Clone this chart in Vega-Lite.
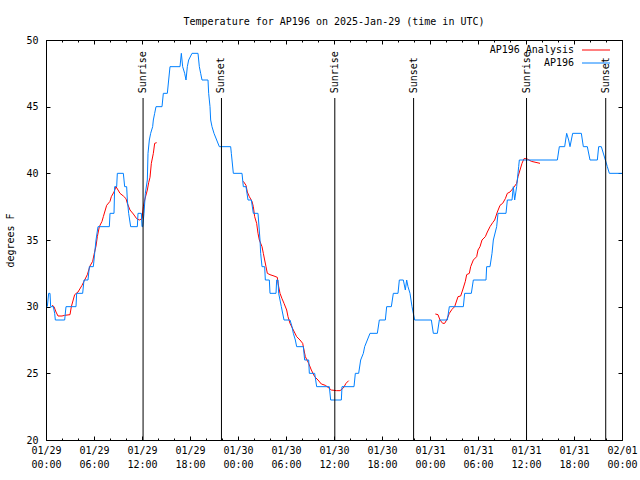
{
  "$schema": "https://vega.github.io/schema/vega-lite/v6.json",
  "width": 576,
  "height": 400,
  "autosize": {"type": "none"},
  "padding": {"left": 46, "top": 40, "right": 18, "bottom": 40},
  "background": "white",
  "config": {
    "view": {"stroke": "black", "strokeWidth": 1},
    "font": "DejaVu Sans Mono",
    "axis": {"domain": false, "grid": false, "tickColor": "black", "tickWidth": 1, "labelColor": "black", "labelFont": "DejaVu Sans Mono", "labelFontSize": 10, "titleFont": "DejaVu Sans Mono", "titleFontSize": 10, "titleFontWeight": "normal", "titleColor": "black"}
  },
  "title": {"text": "Temperature for AP196 on 2025-Jan-29 (time in UTC)", "font": "DejaVu Sans Mono", "fontSize": 10, "fontWeight": "normal", "color": "black", "anchor": "middle", "offset": 8},
  "datasets": {
    "ana": [
      {"t": "2025-01-29T00:45Z", "temp": 30.1, "seg": "a1"},
      {"t": "2025-01-29T01:00Z", "temp": 30.0, "seg": "a1"},
      {"t": "2025-01-29T01:15Z", "temp": 29.6, "seg": "a1"},
      {"t": "2025-01-29T01:30Z", "temp": 29.3, "seg": "a1"},
      {"t": "2025-01-29T02:00Z", "temp": 29.3, "seg": "a1"},
      {"t": "2025-01-29T02:20Z", "temp": 29.35, "seg": "a1"},
      {"t": "2025-01-29T03:00Z", "temp": 29.4, "seg": "a1"},
      {"t": "2025-01-29T03:10Z", "temp": 30.0, "seg": "a1"},
      {"t": "2025-01-29T03:35Z", "temp": 30.9, "seg": "a1"},
      {"t": "2025-01-29T04:00Z", "temp": 31.1, "seg": "a1"},
      {"t": "2025-01-29T04:30Z", "temp": 31.6, "seg": "a1"},
      {"t": "2025-01-29T04:45Z", "temp": 31.9, "seg": "a1"},
      {"t": "2025-01-29T05:10Z", "temp": 32.4, "seg": "a1"},
      {"t": "2025-01-29T05:30Z", "temp": 33.05, "seg": "a1"},
      {"t": "2025-01-29T05:50Z", "temp": 33.4, "seg": "a1"},
      {"t": "2025-01-29T06:00Z", "temp": 33.9, "seg": "a1"},
      {"t": "2025-01-29T06:15Z", "temp": 34.55, "seg": "a1"},
      {"t": "2025-01-29T06:25Z", "temp": 35.25, "seg": "a1"},
      {"t": "2025-01-29T06:40Z", "temp": 36.0, "seg": "a1"},
      {"t": "2025-01-29T07:00Z", "temp": 36.4, "seg": "a1"},
      {"t": "2025-01-29T07:10Z", "temp": 36.75, "seg": "a1"},
      {"t": "2025-01-29T07:35Z", "temp": 37.6, "seg": "a1"},
      {"t": "2025-01-29T08:00Z", "temp": 37.9, "seg": "a1"},
      {"t": "2025-01-29T08:10Z", "temp": 38.25, "seg": "a1"},
      {"t": "2025-01-29T08:30Z", "temp": 38.6, "seg": "a1"},
      {"t": "2025-01-29T08:45Z", "temp": 39.0, "seg": "a1"},
      {"t": "2025-01-29T09:15Z", "temp": 38.5, "seg": "a1"},
      {"t": "2025-01-29T09:40Z", "temp": 38.3, "seg": "a1"},
      {"t": "2025-01-29T10:00Z", "temp": 38.1, "seg": "a1"},
      {"t": "2025-01-29T10:10Z", "temp": 37.75, "seg": "a1"},
      {"t": "2025-01-29T10:30Z", "temp": 37.25, "seg": "a1"},
      {"t": "2025-01-29T10:55Z", "temp": 36.95, "seg": "a1"},
      {"t": "2025-01-29T11:20Z", "temp": 36.6, "seg": "a1"},
      {"t": "2025-01-29T11:40Z", "temp": 36.5, "seg": "a1"},
      {"t": "2025-01-29T12:00Z", "temp": 36.6, "seg": "a1"},
      {"t": "2025-01-29T12:10Z", "temp": 37.5, "seg": "a1"},
      {"t": "2025-01-29T12:20Z", "temp": 38.0, "seg": "a1"},
      {"t": "2025-01-29T12:40Z", "temp": 38.75, "seg": "a1"},
      {"t": "2025-01-29T12:50Z", "temp": 39.3, "seg": "a1"},
      {"t": "2025-01-29T13:00Z", "temp": 39.7, "seg": "a1"},
      {"t": "2025-01-29T13:10Z", "temp": 40.75, "seg": "a1"},
      {"t": "2025-01-29T13:25Z", "temp": 41.5, "seg": "a1"},
      {"t": "2025-01-29T13:35Z", "temp": 42.25, "seg": "a1"},
      {"t": "2025-01-29T13:50Z", "temp": 42.3, "seg": "a1"},
      {"t": "2025-01-30T00:40Z", "temp": 39.4, "seg": "a2"},
      {"t": "2025-01-30T01:00Z", "temp": 39.1, "seg": "a2"},
      {"t": "2025-01-30T01:10Z", "temp": 38.6, "seg": "a2"},
      {"t": "2025-01-30T01:25Z", "temp": 38.25, "seg": "a2"},
      {"t": "2025-01-30T01:45Z", "temp": 37.9, "seg": "a2"},
      {"t": "2025-01-30T01:55Z", "temp": 37.5, "seg": "a2"},
      {"t": "2025-01-30T02:05Z", "temp": 36.75, "seg": "a2"},
      {"t": "2025-01-30T02:20Z", "temp": 36.25, "seg": "a2"},
      {"t": "2025-01-30T02:30Z", "temp": 35.5, "seg": "a2"},
      {"t": "2025-01-30T02:40Z", "temp": 35.0, "seg": "a2"},
      {"t": "2025-01-30T03:00Z", "temp": 34.5, "seg": "a2"},
      {"t": "2025-01-30T03:10Z", "temp": 34.0, "seg": "a2"},
      {"t": "2025-01-30T03:20Z", "temp": 33.5, "seg": "a2"},
      {"t": "2025-01-30T03:30Z", "temp": 33.0, "seg": "a2"},
      {"t": "2025-01-30T03:40Z", "temp": 32.5, "seg": "a2"},
      {"t": "2025-01-30T04:00Z", "temp": 32.4, "seg": "a2"},
      {"t": "2025-01-30T04:30Z", "temp": 32.3, "seg": "a2"},
      {"t": "2025-01-30T04:55Z", "temp": 32.2, "seg": "a2"},
      {"t": "2025-01-30T05:00Z", "temp": 31.75, "seg": "a2"},
      {"t": "2025-01-30T05:15Z", "temp": 31.0, "seg": "a2"},
      {"t": "2025-01-30T05:30Z", "temp": 30.6, "seg": "a2"},
      {"t": "2025-01-30T05:45Z", "temp": 30.25, "seg": "a2"},
      {"t": "2025-01-30T06:05Z", "temp": 29.75, "seg": "a2"},
      {"t": "2025-01-30T06:15Z", "temp": 29.25, "seg": "a2"},
      {"t": "2025-01-30T06:30Z", "temp": 28.75, "seg": "a2"},
      {"t": "2025-01-30T06:55Z", "temp": 28.25, "seg": "a2"},
      {"t": "2025-01-30T07:20Z", "temp": 27.75, "seg": "a2"},
      {"t": "2025-01-30T07:45Z", "temp": 27.5, "seg": "a2"},
      {"t": "2025-01-30T08:05Z", "temp": 27.25, "seg": "a2"},
      {"t": "2025-01-30T08:25Z", "temp": 26.25, "seg": "a2"},
      {"t": "2025-01-30T08:50Z", "temp": 25.75, "seg": "a2"},
      {"t": "2025-01-30T09:10Z", "temp": 25.25, "seg": "a2"},
      {"t": "2025-01-30T09:35Z", "temp": 24.75, "seg": "a2"},
      {"t": "2025-01-30T10:00Z", "temp": 24.5, "seg": "a2"},
      {"t": "2025-01-30T10:25Z", "temp": 24.2, "seg": "a2"},
      {"t": "2025-01-30T10:55Z", "temp": 24.1, "seg": "a2"},
      {"t": "2025-01-30T11:15Z", "temp": 23.95, "seg": "a2"},
      {"t": "2025-01-30T11:40Z", "temp": 23.75, "seg": "a2"},
      {"t": "2025-01-30T12:20Z", "temp": 23.7, "seg": "a2"},
      {"t": "2025-01-30T12:45Z", "temp": 23.7, "seg": "a2"},
      {"t": "2025-01-30T13:10Z", "temp": 23.9, "seg": "a2"},
      {"t": "2025-01-30T13:30Z", "temp": 24.25, "seg": "a2"},
      {"t": "2025-01-30T13:50Z", "temp": 24.45, "seg": "a2"},
      {"t": "2025-01-31T00:40Z", "temp": 29.45, "seg": "a3"},
      {"t": "2025-01-31T01:00Z", "temp": 29.4, "seg": "a3"},
      {"t": "2025-01-31T01:15Z", "temp": 29.0, "seg": "a3"},
      {"t": "2025-01-31T01:35Z", "temp": 28.75, "seg": "a3"},
      {"t": "2025-01-31T01:50Z", "temp": 28.75, "seg": "a3"},
      {"t": "2025-01-31T02:05Z", "temp": 29.0, "seg": "a3"},
      {"t": "2025-01-31T02:25Z", "temp": 29.5, "seg": "a3"},
      {"t": "2025-01-31T02:45Z", "temp": 29.8, "seg": "a3"},
      {"t": "2025-01-31T03:05Z", "temp": 30.0, "seg": "a3"},
      {"t": "2025-01-31T03:30Z", "temp": 30.75, "seg": "a3"},
      {"t": "2025-01-31T03:50Z", "temp": 30.8, "seg": "a3"},
      {"t": "2025-01-31T04:05Z", "temp": 31.25, "seg": "a3"},
      {"t": "2025-01-31T04:25Z", "temp": 31.9, "seg": "a3"},
      {"t": "2025-01-31T04:35Z", "temp": 32.4, "seg": "a3"},
      {"t": "2025-01-31T04:55Z", "temp": 32.5, "seg": "a3"},
      {"t": "2025-01-31T05:05Z", "temp": 33.0, "seg": "a3"},
      {"t": "2025-01-31T05:25Z", "temp": 33.5, "seg": "a3"},
      {"t": "2025-01-31T05:50Z", "temp": 33.75, "seg": "a3"},
      {"t": "2025-01-31T06:00Z", "temp": 34.25, "seg": "a3"},
      {"t": "2025-01-31T06:15Z", "temp": 34.5, "seg": "a3"},
      {"t": "2025-01-31T06:30Z", "temp": 35.0, "seg": "a3"},
      {"t": "2025-01-31T06:55Z", "temp": 35.25, "seg": "a3"},
      {"t": "2025-01-31T07:10Z", "temp": 35.6, "seg": "a3"},
      {"t": "2025-01-31T07:30Z", "temp": 36.0, "seg": "a3"},
      {"t": "2025-01-31T07:50Z", "temp": 36.3, "seg": "a3"},
      {"t": "2025-01-31T08:05Z", "temp": 36.5, "seg": "a3"},
      {"t": "2025-01-31T08:25Z", "temp": 37.1, "seg": "a3"},
      {"t": "2025-01-31T08:45Z", "temp": 37.6, "seg": "a3"},
      {"t": "2025-01-31T09:05Z", "temp": 37.75, "seg": "a3"},
      {"t": "2025-01-31T09:25Z", "temp": 38.1, "seg": "a3"},
      {"t": "2025-01-31T09:40Z", "temp": 38.5, "seg": "a3"},
      {"t": "2025-01-31T10:00Z", "temp": 38.6, "seg": "a3"},
      {"t": "2025-01-31T10:25Z", "temp": 38.9, "seg": "a3"},
      {"t": "2025-01-31T10:50Z", "temp": 39.25, "seg": "a3"},
      {"t": "2025-01-31T11:00Z", "temp": 39.75, "seg": "a3"},
      {"t": "2025-01-31T11:15Z", "temp": 40.25, "seg": "a3"},
      {"t": "2025-01-31T11:30Z", "temp": 40.75, "seg": "a3"},
      {"t": "2025-01-31T11:45Z", "temp": 41.1, "seg": "a3"},
      {"t": "2025-01-31T12:05Z", "temp": 41.1, "seg": "a3"},
      {"t": "2025-01-31T12:40Z", "temp": 40.9, "seg": "a3"},
      {"t": "2025-01-31T13:45Z", "temp": 40.75, "seg": "a3"}
    ],
    "obs": [
      {"t": "2025-01-29T00:10Z", "temp": 30},
      {"t": "2025-01-29T00:20Z", "temp": 31},
      {"t": "2025-01-29T00:30Z", "temp": 31},
      {"t": "2025-01-29T00:35Z", "temp": 30},
      {"t": "2025-01-29T00:55Z", "temp": 30},
      {"t": "2025-01-29T01:05Z", "temp": 29.5},
      {"t": "2025-01-29T01:10Z", "temp": 29},
      {"t": "2025-01-29T02:20Z", "temp": 29},
      {"t": "2025-01-29T02:30Z", "temp": 30},
      {"t": "2025-01-29T03:45Z", "temp": 30},
      {"t": "2025-01-29T03:50Z", "temp": 31},
      {"t": "2025-01-29T04:35Z", "temp": 31},
      {"t": "2025-01-29T04:45Z", "temp": 32},
      {"t": "2025-01-29T05:15Z", "temp": 32},
      {"t": "2025-01-29T05:25Z", "temp": 33},
      {"t": "2025-01-29T05:55Z", "temp": 33},
      {"t": "2025-01-29T06:05Z", "temp": 34},
      {"t": "2025-01-29T06:15Z", "temp": 35},
      {"t": "2025-01-29T06:30Z", "temp": 36},
      {"t": "2025-01-29T07:55Z", "temp": 36},
      {"t": "2025-01-29T08:00Z", "temp": 37},
      {"t": "2025-01-29T08:30Z", "temp": 37},
      {"t": "2025-01-29T08:35Z", "temp": 39},
      {"t": "2025-01-29T08:50Z", "temp": 39},
      {"t": "2025-01-29T08:55Z", "temp": 40},
      {"t": "2025-01-29T09:40Z", "temp": 40},
      {"t": "2025-01-29T09:45Z", "temp": 39.5},
      {"t": "2025-01-29T09:50Z", "temp": 39},
      {"t": "2025-01-29T10:05Z", "temp": 39},
      {"t": "2025-01-29T10:10Z", "temp": 38},
      {"t": "2025-01-29T10:20Z", "temp": 37},
      {"t": "2025-01-29T10:35Z", "temp": 36},
      {"t": "2025-01-29T11:25Z", "temp": 36},
      {"t": "2025-01-29T11:30Z", "temp": 37},
      {"t": "2025-01-29T11:55Z", "temp": 37},
      {"t": "2025-01-29T12:00Z", "temp": 36},
      {"t": "2025-01-29T12:05Z", "temp": 36},
      {"t": "2025-01-29T12:15Z", "temp": 37},
      {"t": "2025-01-29T12:25Z", "temp": 38.5},
      {"t": "2025-01-29T12:40Z", "temp": 39.5},
      {"t": "2025-01-29T12:45Z", "temp": 41.5},
      {"t": "2025-01-29T12:55Z", "temp": 42.5},
      {"t": "2025-01-29T13:05Z", "temp": 43},
      {"t": "2025-01-29T13:20Z", "temp": 43.5},
      {"t": "2025-01-29T13:25Z", "temp": 44},
      {"t": "2025-01-29T13:35Z", "temp": 44.5},
      {"t": "2025-01-29T13:45Z", "temp": 45},
      {"t": "2025-01-29T14:30Z", "temp": 45},
      {"t": "2025-01-29T14:40Z", "temp": 46},
      {"t": "2025-01-29T15:10Z", "temp": 46},
      {"t": "2025-01-29T15:20Z", "temp": 47},
      {"t": "2025-01-29T15:30Z", "temp": 48},
      {"t": "2025-01-29T16:45Z", "temp": 48},
      {"t": "2025-01-29T16:55Z", "temp": 49},
      {"t": "2025-01-29T17:05Z", "temp": 48},
      {"t": "2025-01-29T17:20Z", "temp": 47.5},
      {"t": "2025-01-29T17:30Z", "temp": 47},
      {"t": "2025-01-29T17:40Z", "temp": 48},
      {"t": "2025-01-29T17:50Z", "temp": 48.5},
      {"t": "2025-01-29T18:15Z", "temp": 49},
      {"t": "2025-01-29T19:00Z", "temp": 49},
      {"t": "2025-01-29T19:10Z", "temp": 48},
      {"t": "2025-01-29T19:20Z", "temp": 47.5},
      {"t": "2025-01-29T19:30Z", "temp": 47},
      {"t": "2025-01-29T20:15Z", "temp": 47},
      {"t": "2025-01-29T20:20Z", "temp": 46},
      {"t": "2025-01-29T20:30Z", "temp": 45},
      {"t": "2025-01-29T20:35Z", "temp": 44},
      {"t": "2025-01-29T20:45Z", "temp": 43.5},
      {"t": "2025-01-29T21:00Z", "temp": 43},
      {"t": "2025-01-29T21:20Z", "temp": 42.5},
      {"t": "2025-01-29T21:40Z", "temp": 42},
      {"t": "2025-01-29T23:05Z", "temp": 42},
      {"t": "2025-01-29T23:10Z", "temp": 41.5},
      {"t": "2025-01-29T23:15Z", "temp": 41},
      {"t": "2025-01-29T23:25Z", "temp": 40},
      {"t": "2025-01-30T00:30Z", "temp": 40},
      {"t": "2025-01-30T00:40Z", "temp": 39},
      {"t": "2025-01-30T01:00Z", "temp": 39},
      {"t": "2025-01-30T01:15Z", "temp": 38},
      {"t": "2025-01-30T01:40Z", "temp": 38},
      {"t": "2025-01-30T01:55Z", "temp": 37},
      {"t": "2025-01-30T02:30Z", "temp": 37},
      {"t": "2025-01-30T02:45Z", "temp": 35},
      {"t": "2025-01-30T02:50Z", "temp": 34},
      {"t": "2025-01-30T03:00Z", "temp": 33},
      {"t": "2025-01-30T03:20Z", "temp": 33},
      {"t": "2025-01-30T03:25Z", "temp": 32},
      {"t": "2025-01-30T03:55Z", "temp": 32},
      {"t": "2025-01-30T04:00Z", "temp": 31},
      {"t": "2025-01-30T04:45Z", "temp": 31},
      {"t": "2025-01-30T04:50Z", "temp": 32},
      {"t": "2025-01-30T05:00Z", "temp": 32},
      {"t": "2025-01-30T05:05Z", "temp": 31},
      {"t": "2025-01-30T05:15Z", "temp": 30.5},
      {"t": "2025-01-30T05:25Z", "temp": 30},
      {"t": "2025-01-30T05:45Z", "temp": 29},
      {"t": "2025-01-30T06:30Z", "temp": 29},
      {"t": "2025-01-30T06:45Z", "temp": 28.5},
      {"t": "2025-01-30T06:55Z", "temp": 28},
      {"t": "2025-01-30T07:10Z", "temp": 27.5},
      {"t": "2025-01-30T07:20Z", "temp": 27},
      {"t": "2025-01-30T08:10Z", "temp": 27},
      {"t": "2025-01-30T08:20Z", "temp": 26},
      {"t": "2025-01-30T08:50Z", "temp": 26},
      {"t": "2025-01-30T08:55Z", "temp": 25},
      {"t": "2025-01-30T09:35Z", "temp": 25},
      {"t": "2025-01-30T09:50Z", "temp": 24},
      {"t": "2025-01-30T11:25Z", "temp": 24},
      {"t": "2025-01-30T11:35Z", "temp": 23},
      {"t": "2025-01-30T12:55Z", "temp": 23},
      {"t": "2025-01-30T13:00Z", "temp": 24},
      {"t": "2025-01-30T14:30Z", "temp": 24},
      {"t": "2025-01-30T14:40Z", "temp": 25},
      {"t": "2025-01-30T15:05Z", "temp": 25},
      {"t": "2025-01-30T15:20Z", "temp": 26},
      {"t": "2025-01-30T15:40Z", "temp": 26.5},
      {"t": "2025-01-30T15:50Z", "temp": 27},
      {"t": "2025-01-30T16:10Z", "temp": 27.5},
      {"t": "2025-01-30T16:30Z", "temp": 28},
      {"t": "2025-01-30T17:25Z", "temp": 28},
      {"t": "2025-01-30T17:40Z", "temp": 29},
      {"t": "2025-01-30T18:25Z", "temp": 29},
      {"t": "2025-01-30T18:35Z", "temp": 30},
      {"t": "2025-01-30T19:10Z", "temp": 30},
      {"t": "2025-01-30T19:25Z", "temp": 31},
      {"t": "2025-01-30T20:00Z", "temp": 31},
      {"t": "2025-01-30T20:10Z", "temp": 32},
      {"t": "2025-01-30T20:40Z", "temp": 32},
      {"t": "2025-01-30T20:55Z", "temp": 31.25},
      {"t": "2025-01-30T21:05Z", "temp": 32},
      {"t": "2025-01-30T21:15Z", "temp": 31.5},
      {"t": "2025-01-30T21:30Z", "temp": 31},
      {"t": "2025-01-30T21:45Z", "temp": 30},
      {"t": "2025-01-30T22:05Z", "temp": 29},
      {"t": "2025-01-31T00:10Z", "temp": 29},
      {"t": "2025-01-31T00:25Z", "temp": 28},
      {"t": "2025-01-31T00:55Z", "temp": 28},
      {"t": "2025-01-31T01:10Z", "temp": 29},
      {"t": "2025-01-31T02:10Z", "temp": 29},
      {"t": "2025-01-31T02:25Z", "temp": 30},
      {"t": "2025-01-31T04:10Z", "temp": 30},
      {"t": "2025-01-31T04:20Z", "temp": 31},
      {"t": "2025-01-31T05:10Z", "temp": 31},
      {"t": "2025-01-31T05:25Z", "temp": 32},
      {"t": "2025-01-31T07:00Z", "temp": 32},
      {"t": "2025-01-31T07:05Z", "temp": 33},
      {"t": "2025-01-31T07:30Z", "temp": 33},
      {"t": "2025-01-31T07:45Z", "temp": 34},
      {"t": "2025-01-31T07:55Z", "temp": 35},
      {"t": "2025-01-31T08:20Z", "temp": 36},
      {"t": "2025-01-31T08:30Z", "temp": 37},
      {"t": "2025-01-31T09:30Z", "temp": 37},
      {"t": "2025-01-31T09:40Z", "temp": 38},
      {"t": "2025-01-31T10:15Z", "temp": 38},
      {"t": "2025-01-31T10:25Z", "temp": 39},
      {"t": "2025-01-31T10:35Z", "temp": 38},
      {"t": "2025-01-31T10:50Z", "temp": 39},
      {"t": "2025-01-31T11:05Z", "temp": 40.5},
      {"t": "2025-01-31T11:10Z", "temp": 41},
      {"t": "2025-01-31T15:55Z", "temp": 41},
      {"t": "2025-01-31T16:10Z", "temp": 42},
      {"t": "2025-01-31T16:50Z", "temp": 42},
      {"t": "2025-01-31T17:05Z", "temp": 43},
      {"t": "2025-01-31T17:20Z", "temp": 42.5},
      {"t": "2025-01-31T17:30Z", "temp": 42},
      {"t": "2025-01-31T17:40Z", "temp": 42.5},
      {"t": "2025-01-31T17:50Z", "temp": 43},
      {"t": "2025-01-31T18:55Z", "temp": 43},
      {"t": "2025-01-31T19:10Z", "temp": 42},
      {"t": "2025-01-31T19:40Z", "temp": 42},
      {"t": "2025-01-31T20:00Z", "temp": 41},
      {"t": "2025-01-31T20:55Z", "temp": 41},
      {"t": "2025-01-31T21:05Z", "temp": 42},
      {"t": "2025-01-31T21:25Z", "temp": 42},
      {"t": "2025-01-31T21:55Z", "temp": 41},
      {"t": "2025-01-31T22:10Z", "temp": 40.5},
      {"t": "2025-01-31T22:25Z", "temp": 40},
      {"t": "2025-02-01T00:00Z", "temp": 40}
    ],
    "sun": [
      {"t": "2025-01-29T12:08Z", "event": "Sunrise"},
      {"t": "2025-01-29T21:56Z", "event": "Sunset"},
      {"t": "2025-01-30T12:06Z", "event": "Sunrise"},
      {"t": "2025-01-30T21:57Z", "event": "Sunset"},
      {"t": "2025-01-31T12:04Z", "event": "Sunrise"},
      {"t": "2025-01-31T21:58Z", "event": "Sunset"}
    ]
  },
  "layer": [
    {
      "data": {"name": "ana"},
      "mark": {"type": "line", "strokeWidth": 1, "interpolate": "linear"},
      "encoding": {
        "x": {
          "field": "t", "type": "temporal",
          "scale": {"type": "utc", "domain": [1738108800000, 1738368000000], "nice": false},
          "axis": {
            "orient": "bottom", "title": null,
            "values": [1738108800000, 1738130400000, 1738152000000, 1738173600000, 1738195200000, 1738216800000, 1738238400000, 1738260000000, 1738281600000, 1738303200000, 1738324800000, 1738346400000, 1738368000000],
            "tickSize": -4,
            "labelExpr": "[utcFormat(datum.value, '%m/%d'), utcFormat(datum.value, '%H:%M')]",
            "labelFlush": false, "labelOverlap": false, "labelBaseline": "top", "labelLineHeight": 14, "labelPadding": 9
          }
        },
        "y": {
          "field": "temp", "type": "quantitative",
          "scale": {"domain": [20, 50], "nice": false, "zero": false},
          "axis": {
            "orient": "left", "title": "degrees F", "values": [20, 25, 30, 35, 40, 45, 50], "format": "d",
            "tickSize": -4, "labelPadding": 12, "titlePadding": 10
          }
        },
        "color": {
          "datum": "AP196 Analysis",
          "scale": {"domain": ["AP196 Analysis", "AP196"], "range": ["#ff0000", "#0080ff"]},
          "legend": {
            "orient": "none", "legendX": 545, "legendY": 5, "title": null, "padding": 0,
            "symbolType": "M-7,0H7", "symbolSize": 16, "symbolStrokeWidth": 1, "symbolFillColor": "transparent",
            "labelAlign": "right", "labelOffset": -27, "labelBaseline": "middle",
            "labelFont": "DejaVu Sans Mono", "labelFontSize": 10, "labelColor": "black", "labelLimit": 300,
            "rowPadding": 3, "direction": "vertical"
          }
        },
        "detail": {"field": "seg"}
      }
    },
    {
      "data": {"name": "obs"},
      "mark": {"type": "line", "strokeWidth": 1, "interpolate": "linear"},
      "encoding": {
        "x": {"field": "t", "type": "temporal", "axis": {"orient": "bottom", "title": null, "labels": false, "tickSize": -2,
          "values": [1738108800000, 1738116000000, 1738123200000, 1738130400000, 1738137600000, 1738144800000, 1738152000000, 1738159200000, 1738166400000, 1738173600000, 1738180800000, 1738188000000, 1738195200000, 1738202400000, 1738209600000, 1738216800000, 1738224000000, 1738231200000, 1738238400000, 1738245600000, 1738252800000, 1738260000000, 1738267200000, 1738274400000, 1738281600000, 1738288800000, 1738296000000, 1738303200000, 1738310400000, 1738317600000, 1738324800000, 1738332000000, 1738339200000, 1738346400000, 1738353600000, 1738360800000, 1738368000000]}},
        "y": {"field": "temp", "type": "quantitative", "axis": null},
        "color": {"datum": "AP196"}
      }
    },
    {
      "data": {"name": "sun"},
      "mark": {"type": "rule", "color": "black", "strokeWidth": 1},
      "encoding": {
        "x": {"field": "t", "type": "temporal", "axis": {"orient": "top", "title": null, "labels": false, "tickSize": -4,
          "values": [1738108800000, 1738130400000, 1738152000000, 1738173600000, 1738195200000, 1738216800000, 1738238400000, 1738260000000, 1738281600000, 1738303200000, 1738324800000, 1738346400000, 1738368000000]}},
        "y": {"datum": 45.65, "axis": {"orient": "right", "title": null, "labels": false, "values": [20, 25, 30, 35, 40, 45, 50], "tickSize": -4}},
        "y2": {"datum": 20}
      }
    },
    {
      "data": {"name": "sun"},
      "mark": {"type": "text", "angle": 270, "align": "left", "baseline": "middle", "font": "DejaVu Sans Mono", "fontSize": 10, "color": "black"},
      "encoding": {
        "x": {"field": "t", "type": "temporal", "axis": {"orient": "top", "title": null, "labels": false, "tickSize": -2,
          "values": [1738108800000, 1738116000000, 1738123200000, 1738130400000, 1738137600000, 1738144800000, 1738152000000, 1738159200000, 1738166400000, 1738173600000, 1738180800000, 1738188000000, 1738195200000, 1738202400000, 1738209600000, 1738216800000, 1738224000000, 1738231200000, 1738238400000, 1738245600000, 1738252800000, 1738260000000, 1738267200000, 1738274400000, 1738281600000, 1738288800000, 1738296000000, 1738303200000, 1738310400000, 1738317600000, 1738324800000, 1738332000000, 1738339200000, 1738346400000, 1738353600000, 1738360800000, 1738368000000]}},
        "y": {"datum": 46.0, "axis": null},
        "text": {"field": "event"}
      }
    }
  ],
  "resolve": {"axis": {"x": "independent", "y": "independent"}}
}
